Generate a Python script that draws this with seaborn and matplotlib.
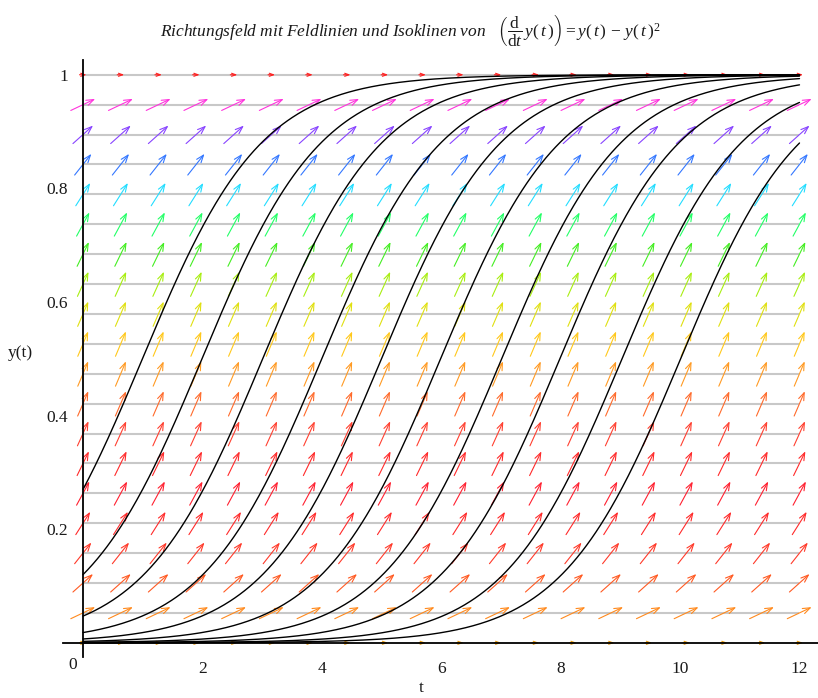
import numpy as np
import pandas as pd
import matplotlib
matplotlib.use("Agg")
import matplotlib.pyplot as plt
import matplotlib.transforms as mtransforms
import seaborn as sns

# Direction field of dy/dt = y - y^2 on a 20 x 20 grid
t_grid = np.linspace(0, 12, 20)
y_grid = np.linspace(0, 1, 20)

# Arrow colour for each row of the grid (bottom row first)
row_colors = [
    "#e89a0c", "#ff8a1e", "#ff5a22", "#ff3a2a", "#ff2a2a",
    "#ff2030", "#ff2a2a", "#ff4030", "#ff6a2a", "#ff9a22",
    "#ffc81a", "#e0e010", "#a8ee10", "#44ee22", "#22ff66",
    "#22ddff", "#3377ff", "#8844ff", "#ff33dd", "#ff2020",
]

# Isocline levels (slope depends on y only -> horizontal lines)
iso_levels = np.linspace(0, 1, 20)[1:]

# Initial values y(0) of the drawn field lines
y0_values = [0.27, 0.12, 0.047, 0.018, 0.0067, 0.0025, 0.0009, 0.00034, 0.00012, 0.000045]

x_ticks = [0, 2, 4, 6, 8, 10, 12]
y_ticks = [0.2, 0.4, 0.6, 0.8, 1.0]
y_ticklabels = ["0.2", "0.4", "0.6", "0.8", "1"]


def slope(y):
    return y - y ** 2


sns.set_theme(style="white")
plt.rcParams["font.family"] = ["Liberation Serif", "DejaVu Serif"]
plt.rcParams["mathtext.fontset"] = "custom"
plt.rcParams["mathtext.rm"] = "Liberation Serif"
plt.rcParams["mathtext.it"] = "Liberation Serif:italic"

fig = plt.figure(figsize=(8.18, 6.98), dpi=100)
ax = fig.add_axes([63 / 818, 41 / 698, 755 / 818, 597 / 698])
ax.set_xlim(-0.335, 12.31)
ax.set_ylim(-0.025, 1.026)

# isoclines
ax.hlines(iso_levels, 0, 12, colors="#c8c8c8", lw=1.5, zorder=1)

# field lines as solutions of the logistic equation
t_line = np.linspace(0, 12, 600)
rows = []
for i, y0 in enumerate(y0_values):
    y = y0 * np.exp(t_line) / (1 - y0 + y0 * np.exp(t_line))
    rows.append(pd.DataFrame({"t": t_line, "y": y, "curve": i}))
curves = pd.concat(rows, ignore_index=True)
sns.lineplot(data=curves, x="t", y="y", units="curve", estimator=None,
             color="black", lw=1.0, ax=ax, zorder=3, sort=False)

# arrows of the direction field, equal screen length
fig.canvas.draw()
p0 = ax.transData.transform((0, 0))
p1 = ax.transData.transform((1, 1))
px_t = p1[0] - p0[0]
px_y = p1[1] - p0[1]
for j, yv in enumerate(y_grid):
    f = slope(yv)
    flat = f < 1e-9
    L = 7.0 if flat else 27.0
    ms = 5 if flat else 9
    d = np.array([px_t, f * px_y])
    u = d / np.hypot(*d)
    dt = 0.5 * L * u[0] / px_t
    dy = 0.5 * L * u[1] / px_y
    for tv in t_grid:
        ax.annotate("", xy=(tv + dt, yv + dy), xytext=(tv - dt, yv - dy),
                    arrowprops=dict(arrowstyle="->,head_length=0.6,head_width=0.22",
                                    color=row_colors[j], lw=0.8,
                                    shrinkA=0, shrinkB=0, mutation_scale=ms),
                    zorder=2, annotation_clip=False)

# axes through the origin
for side in ["top", "right"]:
    ax.spines[side].set_visible(False)
ax.spines["left"].set_position(("data", 0))
ax.spines["bottom"].set_position(("data", 0))
for side in ["left", "bottom"]:
    ax.spines[side].set_color("black")
    ax.spines[side].set_linewidth(1.3)
    ax.spines[side].set_zorder(4)

ax.set_xticks(x_ticks)
ax.set_xticklabels([str(v) for v in x_ticks])
ax.set_xticks(np.arange(1, 12, 2), minor=True)
ax.set_yticks(y_ticks)
ax.set_yticklabels(y_ticklabels)
ax.set_yticks(np.arange(0.1, 1.0, 0.2), minor=True)
ax.tick_params(which="major", direction="out", length=7, width=1.1, color="black",
               labelsize=12.5, labelcolor="#1a1a1a", pad=4)
ax.tick_params(axis="x", which="major", pad=6)
ax.tick_params(which="minor", direction="out", length=3.5, width=1.1, color="black")

# origin label sits a little to the left of the axis crossing
lbl0 = ax.get_xticklabels()[0]
lbl0.set_transform(lbl0.get_transform()
                   + mtransforms.ScaledTranslation(-10 / 100, 4 / 100, fig.dpi_scale_trans))

ax.set_xlabel("t", fontsize=12.5, color="#1a1a1a")
ax.xaxis.set_label_coords((421 - 63) / 755, (657 - 680) / 597)
ax.set_ylabel("y(t)", fontsize=12.5, color="#1a1a1a", rotation=0, va="center", ha="center")
ax.yaxis.set_label_coords((20 - 63) / 755, (657 - 353) / 597)

fig.text(410 / 818, 1 - 30 / 698,
         r"$\it{Richtungsfeld\ mit\ Feldlinien\ und\ Isoklinen\ von}$"
         r"$\quad\left(\dfrac{\mathrm{d}}{\mathrm{d}t}\,y(\,t\,)\right)=y(\,t\,)\,-\,y(\,t\,)^{2}$",
         ha="center", va="center", fontsize=12.5, color="#1a1a1a")

fig.savefig("out.png", dpi=100)
